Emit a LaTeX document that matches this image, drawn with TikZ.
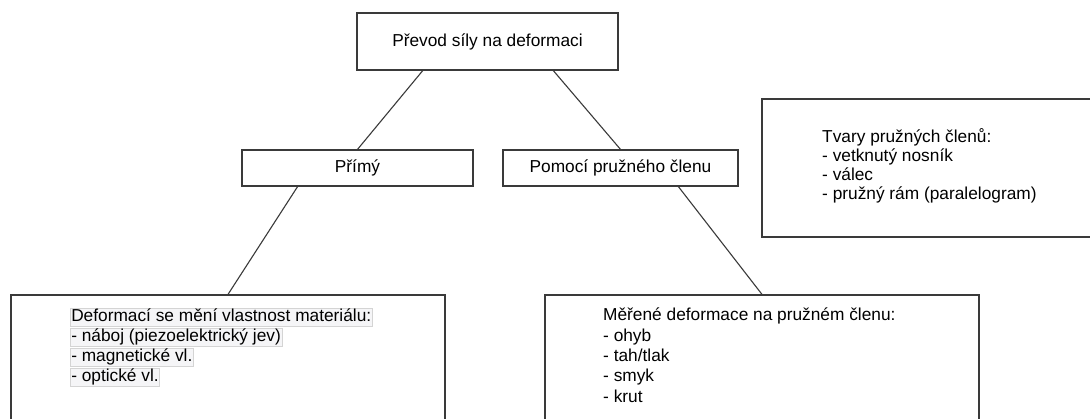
\documentclass[tikz,border=0pt]{standalone}
\usepackage{fontspec}
\setmainfont{Liberation Sans}
\usetikzlibrary{calc}
\definecolor{edge}{HTML}{3A3A3A}
\definecolor{hlfill}{HTML}{F5F5F7}
\definecolor{hldraw}{HTML}{D4D4D4}
\tikzset{
  box/.style={draw=edge, line width=1.2pt, fill=white, inner sep=0pt, font=\fontsize{17.3}{19}\selectfont},
  link/.style={draw=edge, line width=1.1pt},
  txt/.style={anchor=base west, inner sep=0pt, font=\fontsize{17.3}{20}\selectfont},
  hl/.style={anchor=base west, inner xsep=1pt, inner ysep=0pt, text height=13.5pt, text depth=4.5pt, fill=hlfill, draw=hldraw, line width=0.5pt, font=\fontsize{17.3}{20}\selectfont}
}
\begin{document}
\begin{tikzpicture}[x=1pt,y=-1pt]
\clip (0,0) rectangle (1090,419);
\fill[white] (0,0) rectangle (1090,419);
% boxes
\node[box, minimum width=261pt, minimum height=57pt] (top) at (487.5,41.5) {Převod síly na deformaci};
\node[box, minimum width=231pt, minimum height=36pt] (primy) at (357.5,168) {Přímý};
\node[box, minimum width=235pt, minimum height=36pt] (pomoci) at (620.5,168) {Pomocí pružného členu};
\node[box, minimum width=434pt, minimum height=140pt] (bl) at (228,365) {};
\node[box, minimum width=434pt, minimum height=140pt] (br) at (762,365) {};
\node[box, minimum width=336pt, minimum height=138pt] (side) at (930,168) {};
% connectors
\draw[link] ($(top.south west)!0.253!(top.south east)$) -- (primy.north);
\draw[link] ($(top.south west)!0.751!(top.south east)$) -- (pomoci.north);
\draw[link] ($(primy.south west)!0.242!(primy.south east)$) -- (bl.north);
\draw[link] ($(pomoci.south west)!0.745!(pomoci.south east)$) -- (br.north);
% left bottom text (highlighted lines)
\node[hl] (l1) at (70,321.5) {Deformací se mění vlastnost materiálu:};
\node[hl] (l2) at (70,341.5) {- náboj (piezoelektrický jev)};
\node[hl] (l3) at (70,361.5) {- magnetické vl.};
\node[hl] (l4) at (70,381.5) {- optické vl.};
% right bottom text
\node[txt] (r1) at (603,321) {Měřené deformace na pružném členu:};
\node[txt] (r2) at (603,341.3) {- ohyb};
\node[txt] (r3) at (603,361.6) {- tah/tlak};
\node[txt] (r4) at (603,381.9) {- smyk};
\node[txt] (r5) at (603,402.2) {- krut};
% side text
\node[txt] (s1) at (822,143) {Tvary pružných členů:};
\node[txt] (s2) at (822,162) {- vetknutý nosník};
\node[txt] (s3) at (822,181) {- válec};
\node[txt] (s4) at (822,200) {- pružný rám (paralelogram)};
\end{tikzpicture}
\end{document}
